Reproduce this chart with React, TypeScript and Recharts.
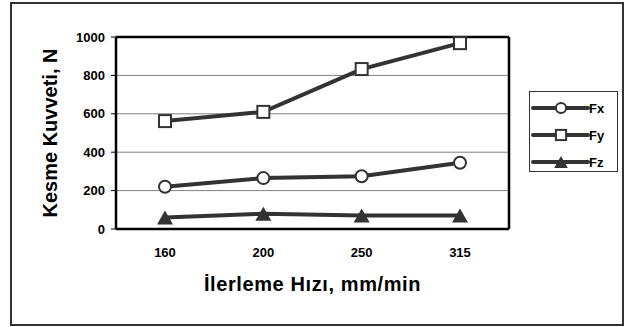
import React from "react";
import {
  LineChart,
  Line,
  XAxis,
  YAxis,
  CartesianGrid,
} from "recharts";

const feeds = ["160", "200", "250", "315"];
const fx = [220, 265, 275, 345];
const fy = [562, 610, 833, 968];
const fz = [60, 80, 70, 70];
const yTicks = [0, 200, 400, 600, 800, 1000];

const data = feeds.map((f, i) => ({ feed: f, Fx: fx[i], Fy: fy[i], Fz: fz[i] }));

const INK = "#333333";
const FONT = "'Liberation Sans', Arial, sans-serif";

type Shape = "circle" | "square" | "triangle";

const series: { key: string; shape: Shape }[] = [
  { key: "Fx", shape: "circle" },
  { key: "Fy", shape: "square" },
  { key: "Fz", shape: "triangle" },
];

function Marker({ cx, cy, shape, s = 1 }: { cx: number; cy: number; shape: Shape; s?: number }) {
  if (cx == null || cy == null) return null;
  if (shape === "circle")
    return <circle cx={cx} cy={cy} r={6 * s} fill="#fff" stroke={INK} strokeWidth={2} />;
  if (shape === "square") {
    const h = 6 * s;
    return <rect x={cx - h} y={cy - h} width={h * 2} height={h * 2} fill="#fff" stroke={INK} strokeWidth={2} />;
  }
  const w = 8 * s;
  const h = 7 * s;
  return (
    <polygon
      points={`${cx - w},${cy + h} ${cx + w},${cy + h} ${cx},${cy - h}`}
      fill={INK}
    />
  );
}

function dotFor(shape: Shape) {
  return (props: any) => <Marker key={props.index} cx={props.cx} cy={props.cy} shape={shape} />;
}

function YTitle() {
  return (
    <text
      x={57}
      y={133}
      transform="rotate(-90 57 133)"
      textAnchor="middle"
      fontFamily={FONT}
      fontWeight="bold"
      fontSize={20}
      fill="#000"
    >
      Kesme Kuvveti, N
    </text>
  );
}

function LegendBox() {
  return (
    <svg
      width={90}
      height={82}
      style={{ position: "absolute", left: 529, top: 91 }}
    >
      <rect x={0.5} y={0.5} width={88} height={80} fill="#fff" stroke={INK} strokeWidth={1} />
      {series.map((s, i) => {
        const y = 17 + i * 27;
        return (
          <g key={s.key}>
            <line x1={4} y1={y} x2={59} y2={y} stroke={INK} strokeWidth={4} strokeLinecap="round" />
            <Marker cx={32} cy={y} shape={s.shape} s={0.85} />
            <text x={60} y={y + 5} fontFamily={FONT} fontWeight="bold" fontSize={13} fill="#000">
              {s.key}
            </text>
          </g>
        );
      })}
    </svg>
  );
}

export default function App() {
  return (
    <div style={{ position: "absolute", left: 0, top: 0, width: 627, height: 327, background: "#fff" }}>
      <div style={{ position: "absolute", left: 0, top: 0 }}>
        <LineChart
          width={627}
          height={327}
          data={data}
          margin={{ top: 36, right: 117, bottom: 68, left: 56 }}
        >
          <CartesianGrid vertical={false} stroke="#808080" strokeWidth={1} />
          <XAxis
            dataKey="feed"
            padding={{ left: 49, right: 49 }}
            axisLine={{ stroke: "#000", strokeWidth: 2.5 }}
            tickLine={false}
            tickSize={6}
            tickMargin={13}
            height={30}
            tick={{ fill: "#000", fontSize: 13, fontWeight: "bold", fontFamily: FONT }}
            label={{
              value: "İlerleme Hızı, mm/min",
              position: "insideBottom",
              offset: -32,
              fill: "#000",
              fontSize: 20,
              fontWeight: "bold",
              fontFamily: FONT,
              style: { letterSpacing: 0.6 },
            }}
          />
          <XAxis
            xAxisId="top"
            dataKey="feed"
            orientation="top"
            height={1}
            tick={false}
            tickLine={false}
            axisLine={{ stroke: "#000", strokeWidth: 2.5 }}
          />
          <YAxis
            domain={[0, 1000]}
            ticks={yTicks}
            width={60}
            tickSize={5}
            tickMargin={6}
            axisLine={{ stroke: "#000", strokeWidth: 2.5 }}
            tickLine={{ stroke: "#000", strokeWidth: 1 }}
            tick={{ fill: "#000", fontSize: 13, fontWeight: "bold", fontFamily: FONT }}
            label={{ content: () => <YTitle /> }}
          />
          <YAxis
            yAxisId="right"
            orientation="right"
            domain={[0, 1000]}
            width={1}
            tick={false}
            tickLine={false}
            axisLine={{ stroke: "#000", strokeWidth: 2.5 }}
          />
          {series.map((s) => (
            <Line
              key={s.key}
              dataKey={s.key}
              stroke={INK}
              strokeWidth={4}
              dot={dotFor(s.shape)}
              activeDot={false}
              isAnimationActive={false}
            />
          ))}
        </LineChart>
      </div>
      <LegendBox />
      <svg
        width={627}
        height={327}
        style={{ position: "absolute", left: 0, top: 0, pointerEvents: "none" }}
      >
        <rect x={11} y={3} width={612} height={322} fill="none" stroke={INK} strokeWidth={2} />
      </svg>
    </div>
  );
}
